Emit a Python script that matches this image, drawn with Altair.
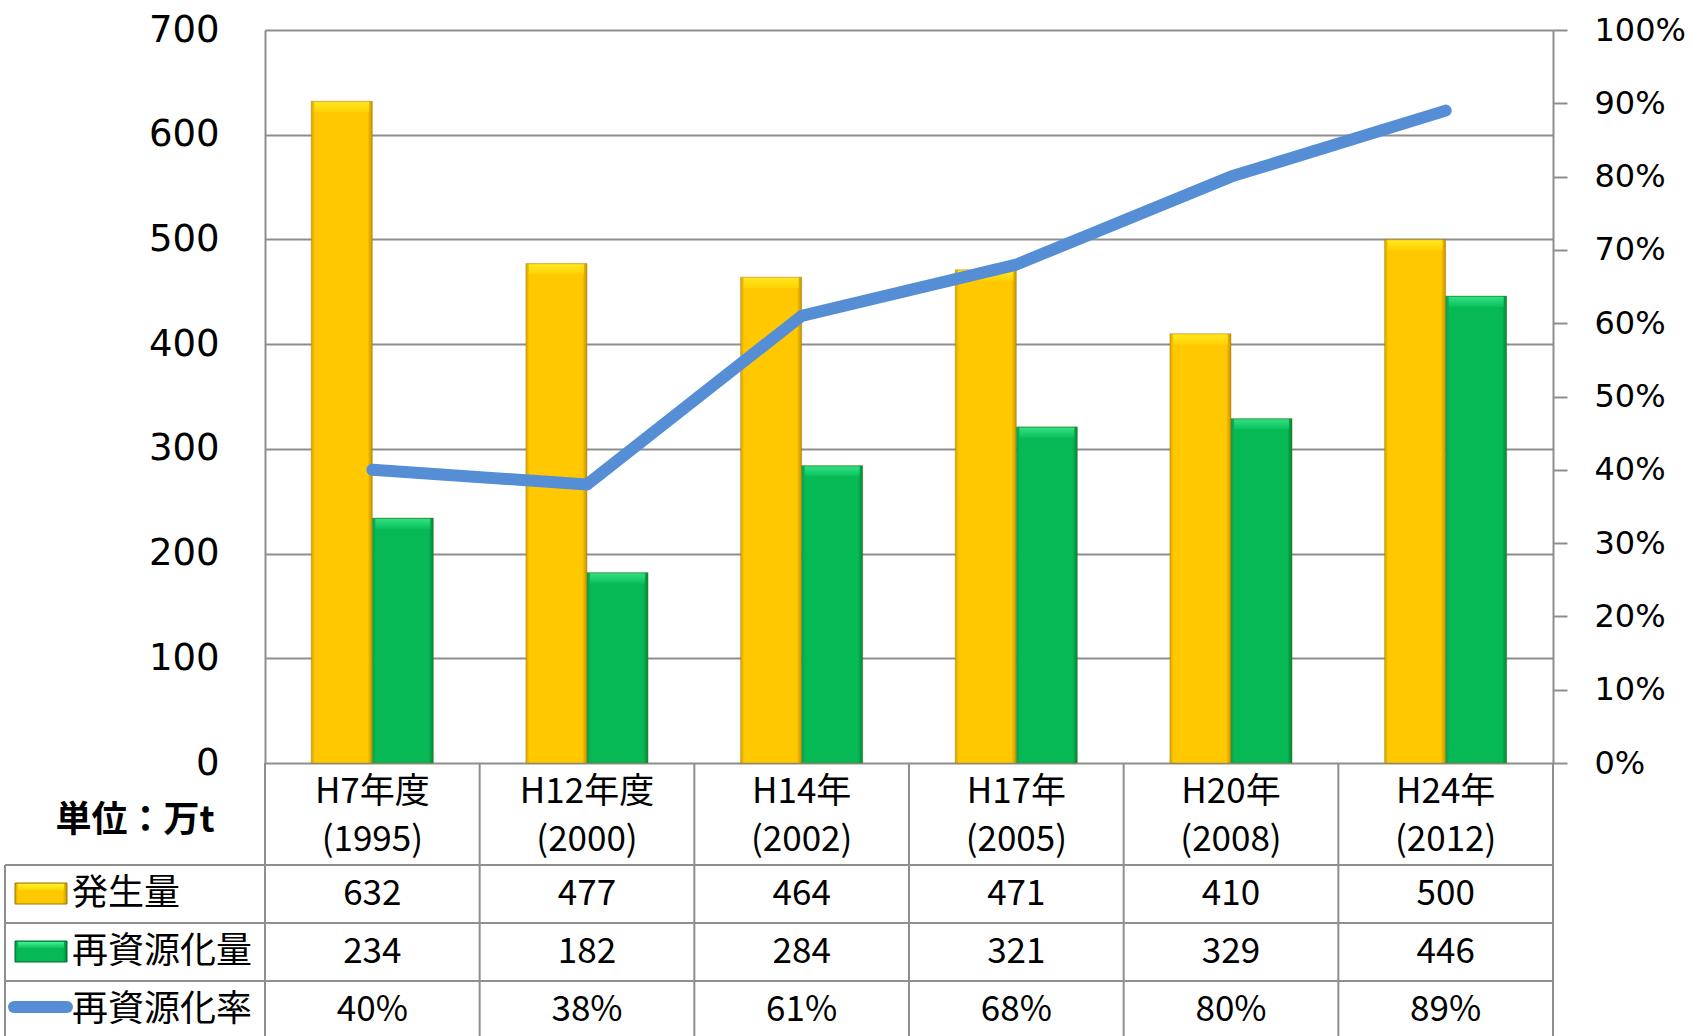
import altair as alt
import pandas as pd

# --- data -----------------------------------------------------------------
periods = ["H7年度", "H12年度", "H14年", "H17年", "H20年", "H24年"]
years = ["1995", "2000", "2002", "2005", "2008", "2012"]
generated = [632, 477, 464, 471, 410, 500]          # 発生量 (万t)
recycled = [234, 182, 284, 321, 329, 446]           # 再資源化量 (万t)
rate = [0.40, 0.38, 0.61, 0.68, 0.80, 0.89]          # 再資源化率
series_names = ["発生量", "再資源化量", "再資源化率"]

df = pd.DataFrame({
    "period": periods,
    "year": ["(" + y + ")" for y in years],
    "generated": generated,
    "recycled": recycled,
    "rate": rate,
})
df["rate_text"] = [f"{round(r * 100)}%" for r in rate]

bars = pd.concat([
    pd.DataFrame({"period": periods, "series": series_names[0], "value": generated}),
    pd.DataFrame({"period": periods, "series": series_names[1], "value": recycled}),
], ignore_index=True)

# --- styles ---------------------------------------------------------------
W, H = 1288, 733
GRID = "#8E8E8E"
TABLE_FONT = "Noto Sans CJK JP"
AXIS_FONT = "DejaVu Sans"
BLUE = "#558ED5"


def side_gradient(edge_l, body, edge_r):
    return alt.Gradient(
        gradient="linear", x1=0, y1=0, x2=1, y2=0,
        stops=[
            alt.GradientStop(color=edge_l, offset=0),
            alt.GradientStop(color=body, offset=0.06),
            alt.GradientStop(color=body, offset=0.92),
            alt.GradientStop(color=edge_r, offset=1),
        ],
    )


def top_gradient(light, body):
    return alt.Gradient(
        gradient="linear", x1=0, y1=0, x2=0, y2=1,
        stops=[alt.GradientStop(color=light, offset=0),
               alt.GradientStop(color=body, offset=1)],
    )


YELLOW = side_gradient("#D9A400", "#FFC800", "#C49200")
YELLOW_TOP = top_gradient("#FFF530", "#FFD400")
GREEN = side_gradient("#07A04A", "#06B955", "#00843A")
GREEN_TOP = top_gradient("#45F09A", "#0AC45C")

x_enc = alt.X("period:N", sort=periods,
              scale=alt.Scale(paddingInner=0, paddingOuter=0), axis=None)
xoff_enc = alt.XOffset("series:N", sort=series_names[:2],
                       scale=alt.Scale(domain=series_names[:2],
                                       paddingInner=0, paddingOuter=0.757))
y_left_scale = alt.Scale(domain=[0, 700], nice=False)

left_axis = alt.Axis(
    values=list(range(0, 701, 100)), grid=True, gridColor=GRID, gridWidth=2,
    domainColor=GRID, domainWidth=2, ticks=False, labelPadding=46,
    labelFont=AXIS_FONT, labelFontSize=37, labelColor="black", title=None,
)
right_axis = alt.Axis(
    orient="right", values=[i / 10 for i in range(11)], format=".0%",
    grid=False, domainColor=GRID, domainWidth=2, tickColor=GRID, tickWidth=2,
    tickSize=14, labelPadding=27, labelFont=AXIS_FONT, labelFontSize=32,
    labelColor="black", title=None,
)
y_left = alt.Y("value:Q", scale=y_left_scale, axis=left_axis)

# --- bars -----------------------------------------------------------------
def bar_layers(name, fill, top):
    base = alt.Chart(bars).transform_filter(alt.datum.series == name)
    body = base.mark_bar(color=fill, stroke="#8A7000", strokeWidth=1,
                         strokeOpacity=0.35).encode(
        x=x_enc, xOffset=xoff_enc, y=y_left,
    )
    cap = base.mark_tick(color=top, thickness=10, size=55, yOffset=6).encode(
        x=x_enc, xOffset=xoff_enc, y=y_left,
    )
    return [body, cap]


bar_group = alt.layer(
    *bar_layers(series_names[0], YELLOW, YELLOW_TOP),
    *bar_layers(series_names[1], GREEN, GREEN_TOP),
)

# --- recycling-rate line (right axis) -------------------------------------
rate_line = alt.Chart(df).mark_line(
    color=BLUE, strokeWidth=12, strokeCap="round", strokeJoin="round"
).encode(
    x=x_enc,
    y=alt.Y("rate:Q", scale=alt.Scale(domain=[0, 1], nice=False), axis=right_axis),
)

# --- data table under the plot --------------------------------------------
one = alt.Data(values=[{}])
ROW_TOP = [835, 893, 951]
ROW_MID = [864, 922, 980]
TABLE_LEFT = -260
BOTTOM = 1010


def hline(y):
    return alt.Chart(one).mark_rule(color=GRID, strokeWidth=2).encode(
        x=alt.value(TABLE_LEFT), x2=alt.value(W), y=alt.value(y))


table = [hline(y) for y in ROW_TOP]

table.append(alt.Chart(df).mark_rule(color=GRID, strokeWidth=2).encode(
    x=alt.X("period:N", sort=periods, bandPosition=0,
            scale=alt.Scale(paddingInner=0, paddingOuter=0), axis=None),
    y=alt.value(H), y2=alt.value(BOTTOM)))
table.append(alt.Chart(df).transform_filter(alt.datum.period == periods[-1])
             .mark_rule(color=GRID, strokeWidth=2).encode(
    x=alt.X("period:N", sort=periods, bandPosition=1,
            scale=alt.Scale(paddingInner=0, paddingOuter=0), axis=None),
    y=alt.value(H), y2=alt.value(BOTTOM)))
table.append(alt.Chart(one).mark_rule(color=GRID, strokeWidth=2).encode(
    x=alt.value(TABLE_LEFT), y=alt.value(ROW_TOP[0]), y2=alt.value(BOTTOM)))

cell = dict(font=TABLE_FONT, fontSize=35, color="black", baseline="middle")
table.append(alt.Chart(df).mark_text(**cell).encode(
    x=x_enc, y=alt.value(762), text="period:N"))
table.append(alt.Chart(df).mark_text(**cell).encode(
    x=x_enc, y=alt.value(810), text="year:N"))
table.append(alt.Chart(df).mark_text(**cell).encode(
    x=x_enc, y=alt.value(ROW_MID[0]), text="generated:Q"))
table.append(alt.Chart(df).mark_text(**cell).encode(
    x=x_enc, y=alt.value(ROW_MID[1]), text="recycled:Q"))
table.append(alt.Chart(df).mark_text(**cell).encode(
    x=x_enc, y=alt.value(ROW_MID[2]), text="rate_text:N"))

# unit note
table.append(alt.Chart(one).mark_text(
    font=TABLE_FONT, fontSize=36, fontWeight="bold", color="black",
    baseline="middle", text="単位：万t").encode(
    x=alt.value(-130), y=alt.value(791)))

# legend keys in the first column
table.append(alt.Chart(one).mark_rect(color=YELLOW, stroke="#9A7A00",
                                      strokeWidth=1).encode(
    x=alt.value(-250), x2=alt.value(-198),
    y=alt.value(ROW_MID[0] - 11), y2=alt.value(ROW_MID[0] + 10)))
table.append(alt.Chart(one).mark_rect(color=YELLOW_TOP).encode(
    x=alt.value(-247), x2=alt.value(-201),
    y=alt.value(ROW_MID[0] - 10), y2=alt.value(ROW_MID[0] - 4)))
table.append(alt.Chart(one).mark_rect(color=GREEN, stroke="#006B30",
                                      strokeWidth=1).encode(
    x=alt.value(-250), x2=alt.value(-198),
    y=alt.value(ROW_MID[1] - 11), y2=alt.value(ROW_MID[1] + 10)))
table.append(alt.Chart(one).mark_rect(color=GREEN_TOP).encode(
    x=alt.value(-247), x2=alt.value(-201),
    y=alt.value(ROW_MID[1] - 10), y2=alt.value(ROW_MID[1] - 4)))
table.append(alt.Chart(one).mark_rule(color=BLUE, strokeWidth=12,
                                      strokeCap="round").encode(
    x=alt.value(-251), x2=alt.value(-198), y=alt.value(ROW_MID[2] - 3)))

for i, name in enumerate(series_names):
    table.append(alt.Chart(one).mark_text(
        font=TABLE_FONT, fontSize=36, color="black", align="left",
        baseline="middle", text=name).encode(
        x=alt.value(-193), y=alt.value(ROW_MID[i])))

chart = alt.layer(
    alt.layer(bar_group, *table),
    rate_line,
).resolve_scale(y="independent").properties(
    width=W, height=H, autosize="none",
    padding={"left": 265, "top": 30, "right": 138, "bottom": 273},
    background="white",
).configure_view(strokeWidth=0)

chart.save("out.html", embed_options={"renderer": "svg", "actions": False})
